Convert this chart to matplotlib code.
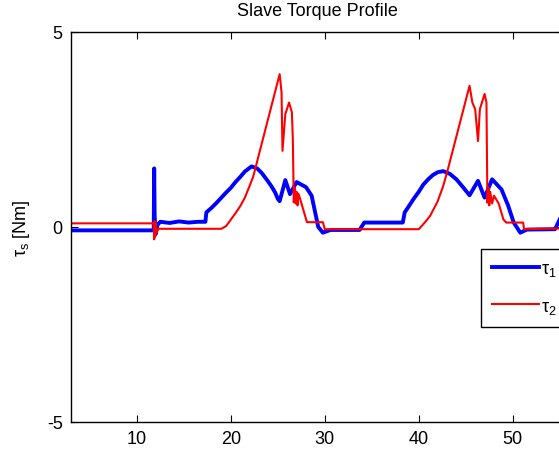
import numpy as np
import matplotlib
matplotlib.use("Agg")
import matplotlib.pyplot as plt

# tau_1 (blue), time in s, torque in Nm
t1 = [3, 11.8, 11.85, 11.9, 12.0, 12.2, 12.5, 13.5, 14.5, 15.5, 16.5, 17.3, 17.4,
      18.0, 18.5, 19.0, 19.5, 20.0, 20.5, 21.0, 21.5, 22.2, 22.8, 23.3, 23.8,
      24.3, 24.7, 25.0, 25.2, 25.8, 26.3, 27.0, 28.0, 28.6, 29.3, 29.8, 30.6,
      33.7, 34.2, 38.3, 38.5, 39.0, 39.4, 40.0, 40.5, 41.0, 41.5, 42.0, 42.6,
      43.3, 44.0, 44.7, 45.4, 46.3, 47.0, 47.8, 48.8, 49.5, 50.1, 50.8, 51.5,
      54.5, 55.5]
tau1 = [-0.09, -0.09, 1.5, 0.3, -0.19, 0.05, 0.13, 0.1, 0.14, 0.11, 0.13, 0.13, 0.37,
        0.5, 0.62, 0.75, 0.88, 1.0, 1.15, 1.28, 1.42, 1.55, 1.5, 1.38, 1.22,
        1.05, 0.89, 0.72, 0.66, 1.2, 0.84, 1.15, 1.02, 0.8, 0.0, -0.15, -0.08,
        -0.08, 0.11, 0.11, 0.37, 0.55, 0.7, 0.9, 1.09, 1.22, 1.33, 1.4, 1.43,
        1.36, 1.22, 1.02, 0.81, 1.18, 0.75, 1.22, 0.96, 0.55, 0.11, -0.15, -0.07,
        -0.06, 0.45]

# tau_2 (red)
t2 = [3, 11.8, 11.85, 11.9, 11.95, 12.0, 12.1, 12.3, 12.6, 19.0, 19.5, 19.9, 20.5,
      21.0, 21.5, 22.0, 22.4, 25.2, 25.4, 25.5, 25.8, 26.2, 26.5, 26.6, 26.7,
      26.8, 26.9, 27.0, 27.1, 27.2, 27.4, 28.1, 29.8, 30.0, 40.0, 40.6, 41.2,
      42.0, 42.6, 43.1, 45.4, 45.7, 46.0, 46.3, 46.5, 47.0, 47.2, 47.3, 47.4,
      47.5, 47.6, 47.8, 48.0, 48.5, 49.0, 49.3, 51.1, 51.2, 55.5]
tau2 = [0.09, 0.09, -0.32, 0.15, -0.25, 0.1, -0.15, -0.05, -0.05, -0.05, 0.02, 0.15, 0.35,
        0.53, 0.75, 1.05, 1.3, 3.92, 3.45, 1.95, 2.89, 3.19, 2.94, 2.25, 0.63,
        1.0, 0.6, 0.9, 0.55, 0.85, 0.7, 0.12, 0.12, -0.06, -0.06, 0.1, 0.28,
        0.65, 1.05, 1.48, 3.62, 3.19, 3.02, 2.2, 3.02, 3.41, 3.19, 0.62, 1.0,
        0.55, 0.9, 0.6, 0.8, 0.6, 0.19, 0.11, 0.11, -0.06, -0.04]

xticks = [10, 20, 30, 40, 50]
yticks = [-5, 0, 5]

plt.rcParams['font.family'] = ['Liberation Sans', 'DejaVu Sans']
plt.rcParams['mathtext.fontset'] = 'custom'
plt.rcParams['mathtext.rm'] = 'Liberation Sans'
plt.rcParams['mathtext.it'] = 'Liberation Sans'
plt.rcParams['axes.unicode_minus'] = False
plt.rcParams['font.size'] = 13

fig = plt.figure(figsize=(5.59, 4.52), dpi=100)
ax = fig.add_axes([0.127, 0.0648, 0.8828, 0.8622])

ax.plot(t1, tau1, color='#0000ff', lw=2.8, label=r'$\tau_1$')
ax.plot(t2, tau2, color='#ff0000', lw=1.5, label=r'$\tau_2$')

ax.set_xlim(3, 55.5)
ax.set_ylim(-5, 5)
ax.set_xticks(xticks)
ax.set_yticks(yticks)
ax.tick_params(direction='in', top=True, right=True, length=5, width=0.8, pad=6)
for s in ax.spines.values():
    s.set_linewidth(1.0)

ax.set_title('Slave Torque Profile', fontsize=13, pad=12)
ax.set_ylabel(r'$\tau_s$ [Nm]', fontsize=13)
ax.yaxis.set_label_coords(-0.08, 0.5)

# legend sits partly past the right edge, as in the reference
leg = ax.legend(loc='upper left', bbox_to_anchor=(481 / 559, 1 - 250 / 452),
                bbox_transform=fig.transFigure, borderaxespad=0,
                fancybox=False, framealpha=1, edgecolor='black',
                handlelength=2.6, handletextpad=0.15, labelspacing=1.1,
                borderpad=0.6)
leg.get_frame().set_linewidth(1.0)

fig.savefig('out.png', dpi=100)
